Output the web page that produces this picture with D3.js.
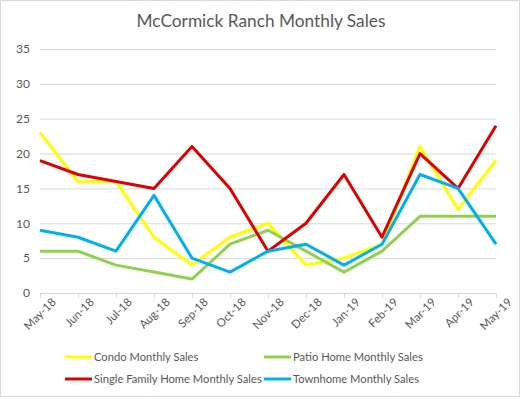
<!DOCTYPE html>
<html>
<head>
<meta charset="utf-8">
<script src="https://cdn.jsdelivr.net/npm/d3@7"></script>
<style>
  body { margin: 0; background: #fff; }
  svg text { font-family: Lato, "Open Sans", sans-serif; fill: #595959; }
  .grid line { stroke: #d9d9d9; }
  .domain { stroke: #d9d9d9; }
</style>
</head>
<body>
<div id="chart"></div>
<script>
// chart data
var months = ["May-18", "Jun-18", "Jul-18", "Aug-18", "Sep-18", "Oct-18", "Nov-18",
              "Dec-18", "Jan-19", "Feb-19", "Mar-19", "Apr-19", "May-19"];
var condo        = [23, 16, 16, 8, 4, 8, 10, 4, 5, 7, 21, 12, 19];
var patioHome    = [6, 6, 4, 3, 2, 7, 9, 6, 3, 6, 11, 11, 11];
var singleFamily = [19, 17, 16, 15, 21, 15, 6, 10, 17, 8, 20, 15, 24];
var townhome     = [9, 8, 6, 14, 5, 3, 6, 7, 4, 7, 17, 15, 7];
var yTicks = [0, 5, 10, 15, 20, 25, 30, 35];

var series = [
    {name: "Condo Monthly Sales", values: condo, color: "#ffff00"},
    {name: "Patio Home Monthly Sales", values: patioHome, color: "#92d050"},
    {name: "Single Family Home Monthly Sales", values: singleFamily, color: "#e00000"},
    {name: "Townhome Monthly Sales", values: townhome, color: "#00b0f0"}
];

var width = 522, height = 399;
var margin = {top: 49, right: 26, bottom: 106, left: 40};

var svg = d3.select("#chart").append("svg")
    .attr("width", width)
    .attr("height", height);

// outer chart border
svg.append("rect")
    .attr("x", 0.5).attr("y", 0.5)
    .attr("width", width - 3).attr("height", height - 3)
    .attr("fill", "#fff")
    .attr("stroke", "#d9d9d9");

svg.append("text")
    .attr("x", 261)
    .attr("y", 27)
    .attr("text-anchor", "middle")
    .style("font-size", "17.3px")
    .text("McCormick Ranch Monthly Sales");

var x = d3.scalePoint()
    .domain(months)
    .range([margin.left, width - margin.right]);

var y = d3.scaleLinear()
    .domain([0, 35])
    .range([height - margin.bottom, margin.top]);

// horizontal gridlines + y labels
var yAxis = svg.append("g")
    .attr("class", "grid")
    .attr("transform", "translate(" + margin.left + ",0)")
    .call(d3.axisLeft(y).tickValues(yTicks)
        .tickSize(-(width - margin.left - margin.right))
        .tickPadding(10));
yAxis.select(".domain").remove();
yAxis.selectAll("text").style("font-size", "12px");
yAxis.selectAll(".tick").filter(function(d){ return d === 0; }).select("line").remove();

// x axis with rotated month labels
var xAxis = svg.append("g")
    .attr("transform", "translate(0," + y(0) + ")")
    .call(d3.axisBottom(x).tickSize(5).tickPadding(3).tickSizeOuter(0));
xAxis.selectAll(".tick line").attr("stroke", "#d9d9d9");
xAxis.selectAll("text")
    .style("font-size", "11.5px")
    .attr("text-anchor", "end")
    .attr("dx", "0.4em")
    .attr("dy", "0.9em")
    .attr("transform", "rotate(-45)");

var line = d3.line()
    .x(function(d, i){ return x(months[i]); })
    .y(function(d){ return y(d); });

svg.selectAll(".series")
    .data(series)
    .enter().append("path")
    .attr("class", "series")
    .attr("fill", "none")
    .attr("stroke", function(d){ return d.color; })
    .attr("stroke-width", 3)
    .attr("stroke-linejoin", "round")
    .attr("d", function(d){ return line(d.values); });

// legend, two columns
var legend = svg.selectAll(".legend")
    .data(series)
    .enter().append("g")
    .attr("class", "legend")
    .attr("transform", function(d, i){
        return "translate(" + (i % 2 === 0 ? 65 : 264) + "," + (i < 2 ? 357 : 379) + ")";
    });

legend.append("line")
    .attr("x1", 0).attr("x2", 27)
    .attr("stroke", function(d){ return d.color; })
    .attr("stroke-width", 3);

legend.append("text")
    .attr("x", 29)
    .attr("dy", "0.35em")
    .style("font-size", "11.2px")
    .text(function(d){ return d.name; });
</script>
</body>
</html>
